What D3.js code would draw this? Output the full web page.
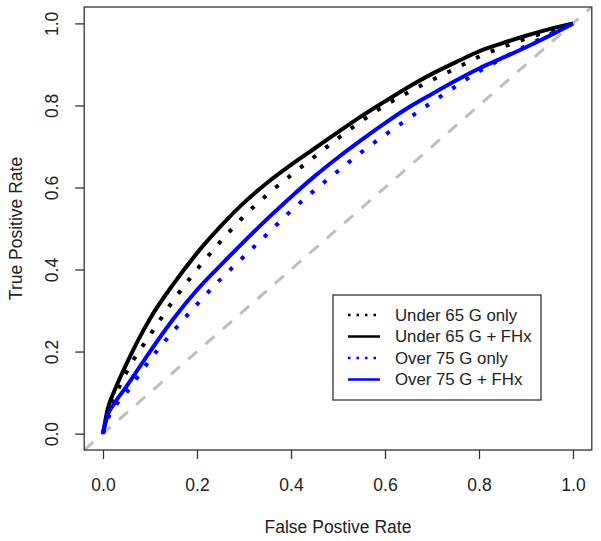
<!DOCTYPE html>
<html><head><meta charset="utf-8">
<script src="https://cdn.jsdelivr.net/npm/d3@7"></script>
<style>body{margin:0;background:#fff}svg{display:block}text{font-family:"Liberation Sans",Arial,sans-serif;fill:#222}</style>
</head><body><svg id="c" width="601" height="541"></svg>
<script>
const fpr = [0,0.01,0.025,0.05,0.1,0.15,0.2,0.25,0.3,0.35,0.4,0.45,0.5,0.55,0.6,0.65,0.7,0.75,0.8,0.85,0.9,0.95,1];
const under65GOnly = [0,0.05,0.09,0.15,0.24,0.325,0.40,0.468,0.53,0.583,0.63,0.675,0.72,0.762,0.80,0.832,0.862,0.89,0.919,0.942,0.963,0.982,1];
const under65GFHx  = [0,0.06,0.106,0.17,0.28,0.365,0.44,0.505,0.563,0.612,0.655,0.695,0.735,0.774,0.81,0.845,0.877,0.905,0.932,0.952,0.97,0.986,1];
const over75GOnly  = [0,0.035,0.065,0.10,0.18,0.25,0.315,0.376,0.432,0.487,0.543,0.593,0.64,0.686,0.728,0.768,0.808,0.846,0.883,0.915,0.945,0.973,1];
const over75GFHx   = [0,0.045,0.075,0.115,0.20,0.28,0.35,0.41,0.468,0.524,0.577,0.627,0.673,0.716,0.757,0.795,0.828,0.86,0.89,0.916,0.942,0.97,1];
const seriesNames = ["Under 65 G only","Under 65 G + FHx","Over 75 G only","Over 75 G + FHx"];
const tickValues = [0,0.2,0.4,0.6,0.8,1.0];
const xTitle = "False Postive Rate", yTitle = "True Positive Rate";

const series = [
  {name: seriesNames[0], vals: under65GOnly, color: "#000", dotted: true},
  {name: seriesNames[1], vals: under65GFHx,  color: "#000", dotted: false},
  {name: seriesNames[2], vals: over75GOnly,  color: "#0000ff", dotted: true},
  {name: seriesNames[3], vals: over75GFHx,   color: "#0000ff", dotted: false}
];

const svg = d3.select("#c");
const box = {l: 84.2, r: 591.8, t: 7, b: 450};
const x = d3.scaleLinear().domain([-0.04, 1.04]).range([box.l, box.r]);
const y = d3.scaleLinear().domain([-0.04, 1.04]).range([box.b, box.t]);

svg.append("defs").append("clipPath").attr("id","clip").append("rect")
  .attr("x", box.l).attr("y", box.t).attr("width", box.r-box.l).attr("height", box.b-box.t);

// diagonal
svg.append("line").attr("clip-path","url(#clip)")
  .attr("x1", x(-0.04)).attr("y1", y(-0.04)).attr("x2", x(1.04)).attr("y2", y(1.04))
  .attr("stroke","#bebebe").attr("stroke-width",3).attr("stroke-dasharray","12 11");

const line = d3.line().x((d,i)=>x(fpr[i])).y(d=>y(d)).curve(d3.curveMonotoneX);
const g = svg.append("g").attr("clip-path","url(#clip)");
series.forEach(s=>{
  g.append("path").attr("d", line(s.vals)).attr("fill","none")
   .attr("stroke", s.color).attr("stroke-width", 4)
   .attr("stroke-dasharray", s.dotted ? "4 12" : null);
});

// box
svg.append("rect").attr("x",box.l).attr("y",box.t).attr("width",box.r-box.l).attr("height",box.b-box.t)
  .attr("fill","none").attr("stroke","#333").attr("stroke-width",1.3);

// axes
const xa = svg.append("g").attr("transform",`translate(0,${box.b})`)
  .call(d3.axisBottom(x).tickValues(tickValues).tickFormat(d3.format(".1f")).tickSize(9));
const ya = svg.append("g").attr("transform",`translate(${box.l},0)`)
  .call(d3.axisLeft(y).tickValues(tickValues).tickFormat(d3.format(".1f")).tickSize(9));
[xa, ya].forEach(a=>{
  a.selectAll(".tick line").attr("stroke","#333").attr("stroke-width",1.3);
  a.selectAll("text").style("font-size","17.5px").attr("fill","#222");
  a.select(".domain").remove();
});
xa.selectAll(".tick text").attr("dy", "0.35em").attr("y", 35);
ya.selectAll(".tick text").attr("x", null).attr("dy", null)
  .attr("text-anchor","middle")
  .attr("transform", "translate(-32,0) rotate(-90)")
  .attr("dy","0.35em");

svg.append("text").attr("x", (x(0)+x(1))/2).attr("y", 533).attr("text-anchor","middle")
  .style("font-size","17.5px").text(xTitle);
svg.append("text").attr("transform", `translate(22,${(y(0)+y(1))/2}) rotate(-90)`).attr("text-anchor","middle")
  .style("font-size","17.5px").text(yTitle);

// legend
const lg = svg.append("g");
lg.append("rect").attr("x",333).attr("y",295).attr("width",208).attr("height",105)
  .attr("fill","#fff").attr("stroke","#333").attr("stroke-width",1.3);
series.forEach((s,i)=>{
  const yy = 315 + i*21.5;
  lg.append("line").attr("x1",348).attr("x2",380).attr("y1",yy).attr("y2",yy)
    .attr("stroke", s.color).attr("stroke-width", 2.5)
    .attr("stroke-dasharray", s.dotted ? "2.5 6" : null);
  lg.append("text").attr("x",395).attr("y",yy).attr("dy","0.35em").style("font-size","16.8px").text(s.name);
});
</script></body></html>
